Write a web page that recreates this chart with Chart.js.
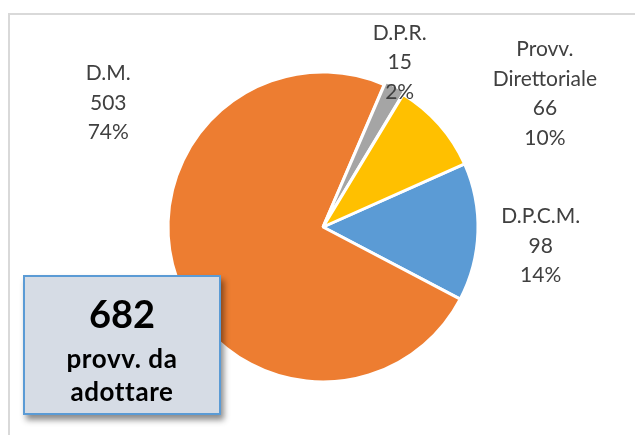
<!DOCTYPE html>
<html>
<head>
<meta charset="utf-8">
<script src="https://cdn.jsdelivr.net/npm/chart.js@4/dist/chart.umd.min.js"></script>
<style>
  html, body { margin: 0; padding: 0; background: #fff; }
  #wrap { position: relative; width: 635px; height: 435px; overflow: hidden; }
  #frame { position: absolute; left: 8px; top: 13px; width: 700px; height: 500px;
           border-top: 2px solid #d9d9d9; border-left: 2px solid #d9d9d9; }
  canvas { position: absolute; left: 0; top: 0; }
  #box { position: absolute; left: 23px; top: 275px; width: 194px; height: 136px;
         background: #d6dce5; border: 2.5px solid #5b9bd5;
         box-shadow: 3px 5px 6px rgba(0,0,0,0.45);
         font-family: Lato, "Open Sans", sans-serif; font-weight: bold; color: #000; text-align: center; }
  #box div { position: absolute; left: 0; width: 100%; }
</style>
</head>
<body>
<div id="wrap">
  <div id="frame"></div>
  <canvas id="pieChart" width="635" height="435"></canvas>
  <div id="box">
    <div id="boxTotal" style="top:14px;font-size:38px;line-height:44px;"></div>
    <div style="top:66px;font-size:26px;line-height:30px;letter-spacing:0.6px;">provv. da</div>
    <div style="top:99px;font-size:26px;line-height:30px;letter-spacing:0.6px;">adottare</div>
  </div>
</div>
<script>
// Dati
const categories = ['D.P.C.M.', 'D.M.', 'D.P.R.', 'Provv. Direttoriale'];
const values = [98, 503, 15, 66];
const colors = ['#5b9bd5', '#ed7d31', '#a5a5a5', '#ffc000'];

const total = values.reduce((a, b) => a + b, 0);
document.getElementById('boxTotal').textContent = total;

// posizione delle etichette: angolo (gradi dall'alto) e distanza in raggi
const labelPlace = [
  { angle: 95, dist: 1.41 },
  { angle: 300, dist: 1.60 },
  { angle: 25, dist: 1.17 },
  { angle: 59, dist: 1.67 }
];

const pieLabels = {
  id: 'pieLabels',
  afterDatasetsDraw(chart) {
    const ctx = chart.ctx;
    const arcs = chart.getDatasetMeta(0).data;
    ctx.save();
    ctx.font = '21px Lato, "Open Sans", sans-serif';
    ctx.fillStyle = '#404040';
    ctx.textAlign = 'center';
    ctx.textBaseline = 'middle';
    arcs.forEach((arc, i) => {
      const p = labelPlace[i];
      const a = p.angle * Math.PI / 180;
      const cx = arc.x + Math.sin(a) * arc.outerRadius * p.dist;
      const cy = arc.y - Math.cos(a) * arc.outerRadius * p.dist;
      const lines = categories[i].split(' ');
      lines.push(String(values[i]));
      lines.push(Math.round(values[i] / total * 100) + '%');
      const lh = 29.5;
      const y0 = cy - (lines.length - 1) * lh / 2;
      lines.forEach((t, k) => ctx.fillText(t, cx, y0 + k * lh));
    });
    ctx.restore();
  }
};

const ctx = document.getElementById('pieChart').getContext('2d');
const pieChart = new Chart(ctx, {
  type: 'pie',
  data: {
    labels: categories,
    datasets: [{
      data: values,
      backgroundColor: colors,
      borderColor: '#ffffff',
      borderWidth: 3,
      offset: [0, 0, 7, 0]
    }]
  },
  options: {
    responsive: false,
    animation: false,
    rotation: 66,
    radius: 155,
    layout: { padding: { left: 168, right: 157, top: 72, bottom: 53 } },
    plugins: {
      legend: { display: false },
      tooltip: { enabled: false }
    }
  },
  plugins: [pieLabels]
});
</script>
</body>
</html>
